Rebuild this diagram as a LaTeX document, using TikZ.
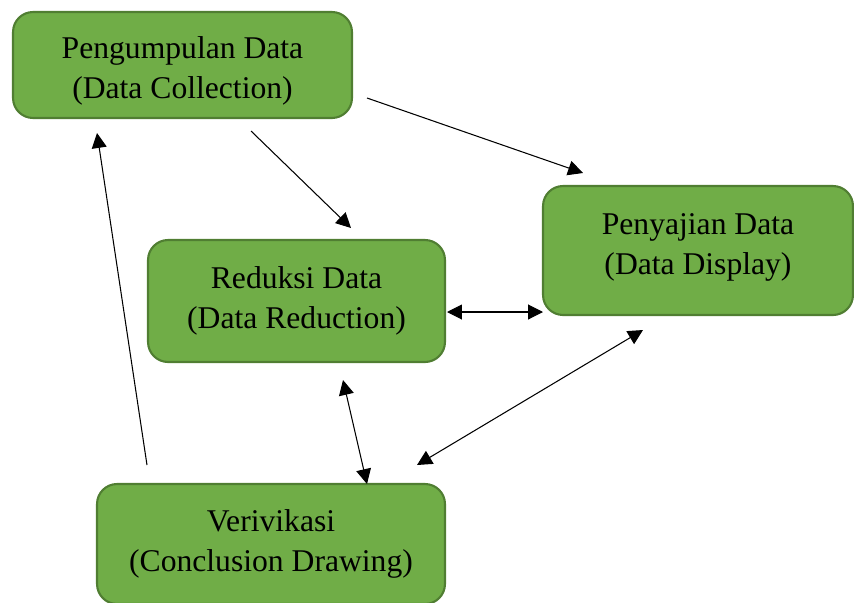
\documentclass[tikz,border=0pt]{standalone}
\usepackage{fontspec}
\setmainfont{Liberation Serif}
\usetikzlibrary{arrows.meta}
\definecolor{stagegreen}{HTML}{70AD47}
\definecolor{stageedge}{HTML}{507E32}
\tikzset{stage/.style={draw=stageedge, fill=stagegreen, line width=1.2pt, rounded corners=0.4cm,
                       align=center, inner sep=0pt, font=\fontsize{18}{22.8}\selectfont},
         flow/.style={black, line width=0.6pt, -{Triangle[length=8.5pt,width=8.5pt]}},
         twoway/.style={flow, {Triangle[length=8.5pt,width=8.5pt]}-{Triangle[length=8.5pt,width=8.5pt]}}}

\begin{document}
\begin{tikzpicture}[x=0.02cm,y=-0.02cm]
   \useasboundingbox (0,0) rectangle (854,602);
   \begin{scope}
    \node[stage, minimum width=6.78cm, minimum height=2.12cm, text height=41.9pt, text depth=3.9pt] (collect) at (182.5, 65.0) {Pengumpulan Data\\(Data Collection)};
    \node[stage, minimum width=5.94cm, minimum height=2.44cm] (reduce)  at (296.5,301.0) {Reduksi Data\\(Data Reduction)};
    \node[stage, minimum width=6.20cm, minimum height=2.58cm, text height=35.1pt, text depth=7.3pt] (display) at (698.0,250.5) {Penyajian Data\\(Data Display)};
    \node[stage, minimum width=6.96cm, minimum height=2.40cm] (verify)  at (271.0,544.0) {Verivikasi\\(Conclusion Drawing)};
   \end{scope}
   \begin{scope}
    \coordinate (collect-r) at (367, 98);  \coordinate (display-t) at (583,173);
    \coordinate (collect-b) at (251,131);  \coordinate (reduce-t)  at (351,228);
    \coordinate (verify-t)  at (147,465);  \coordinate (collect-l) at ( 97,133);
    \coordinate (reduce-r)  at (447,312);  \coordinate (display-l) at (543,312);
    \coordinate (reduce-b)  at (343,380);  \coordinate (verify-m)  at (367,484);
    \coordinate (display-b) at (643,330);  \coordinate (verify-r)  at (417,465);
    \draw[flow]   (collect-r) -- (display-t);
    \draw[flow]   (collect-b) -- (reduce-t);
    \draw[flow]   (verify-t)  -- (collect-l);
    \draw[twoway] (reduce-r)  -- (display-l);
    \draw[twoway] (reduce-b)  -- (verify-m);
    \draw[twoway] (display-b) -- (verify-r);
   \end{scope}
\end{tikzpicture}
\end{document}
